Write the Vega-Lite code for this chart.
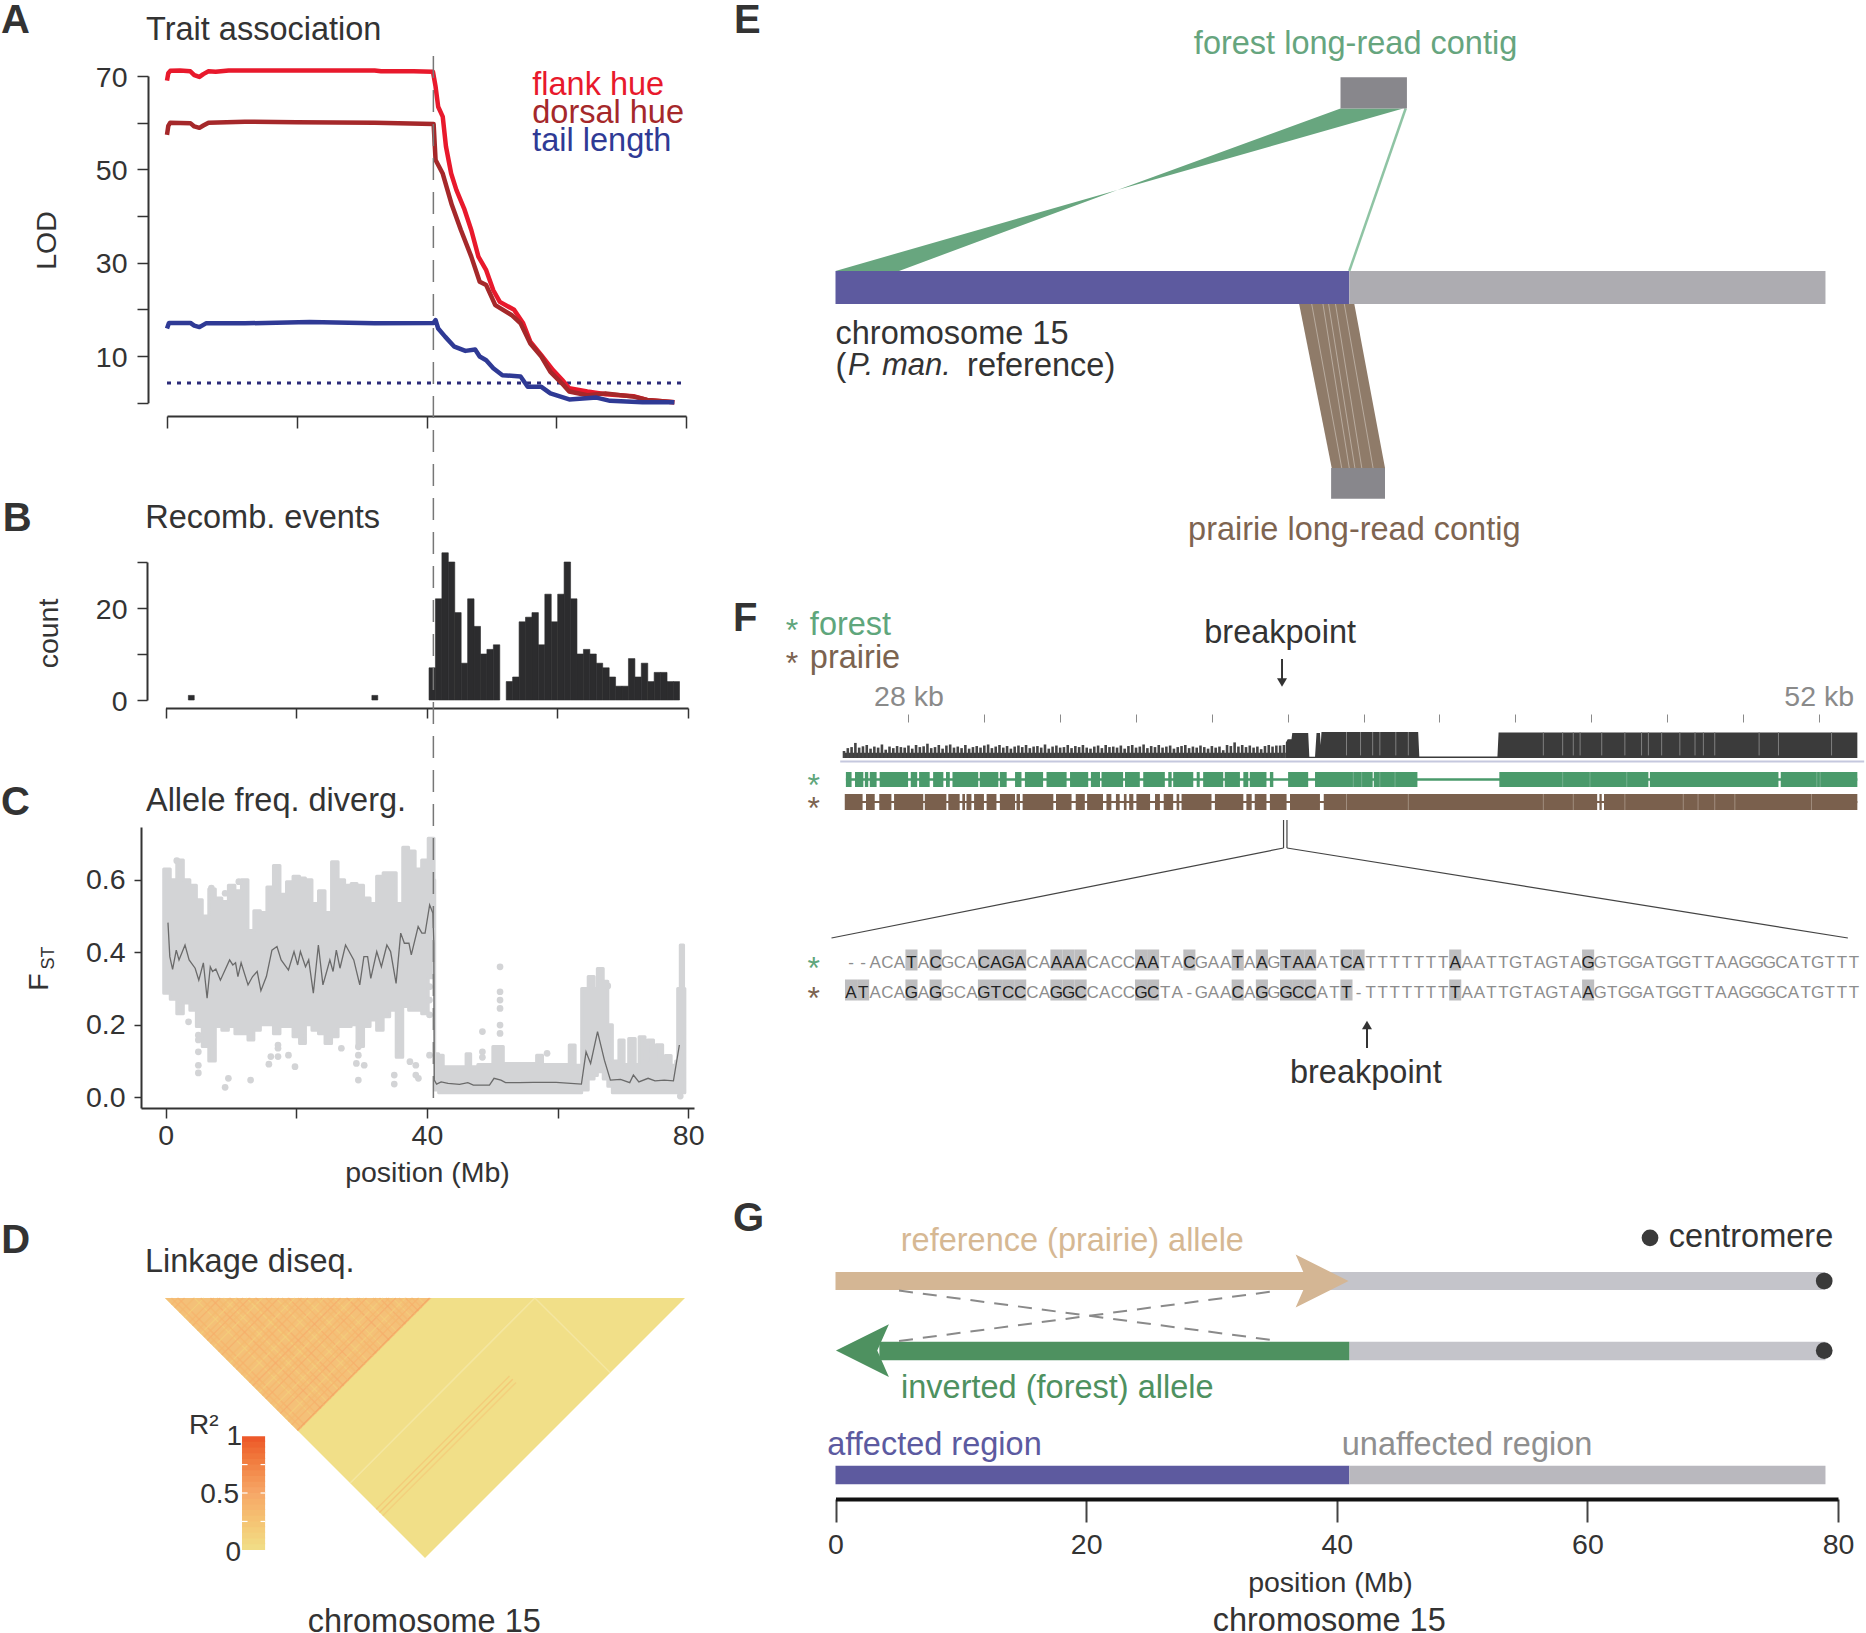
{"$schema":"https://vega.github.io/schema/vega-lite/v6.json","width":1866,"height":1633,"padding":0,"autosize":{"type":"none"},"background":"white",
"config":{"view":{"stroke":null},"font":"Liberation Sans","text":{"font":"Liberation Sans","fontSize":32.5,"color":"#333333","baseline":"middle","align":"left","dy":1},"point":{"opacity":1,"filled":true},"axis":{"grid":false,"domainColor":"#333333","domainWidth":2,"tickColor":"#333333","tickWidth":1.5,"labelFont":"Liberation Sans","labelFontSize":28.5,"labelColor":"#333333","titleFont":"Liberation Sans","titleFontSize":28.5,"titleFontWeight":"normal","titleColor":"#333333","titleBaseline":"middle","labelOverlap":false,"labelBound":false,"labelFlush":false}},
"resolve":{"scale":{"x":"independent","y":"independent","color":"independent"},"axis":{"x":"independent","y":"independent"}},
"layer":[
{"encoding":{"x":{"field":"x","type":"quantitative","scale":{"domain":[0,80],"range":[167,686],"nice":false,"zero":false},"axis":{"orient":"bottom","offset":-1217,"values":[0,20,40,60,80],"labels":false,"tickSize":12,"title":null}},"y":{"field":"y","type":"quantitative","scale":{"domain":[0,70],"range":[402.7,76],"nice":false,"zero":false},"axis":{"orient":"left","offset":-148,"values":[0,10,20,30,40,50,60,70],"tickSize":11,"labelPadding":10,"labelOffset":1,"labelExpr":"datum.value%20==10?datum.label:''","title":"LOD","titleX":-102,"titleY":240}}},
"layer":[
{"data":{"values":[{"x":0,"x2":79.5,"y":4.2}]},"mark":{"type":"rule","color":"#2b2b78","strokeWidth":3,"strokeDash":[4,6]},"encoding":{"x2":{"field":"x2"}}},
{"data":{"values":[
{"s":"flank hue","x":0,"y":69},{"s":"flank hue","x":0.2,"y":70.6},{"s":"flank hue","x":0.5,"y":71.1},{"s":"flank hue","x":2,"y":71.2},{"s":"flank hue","x":3.6,"y":71},{"s":"flank hue","x":4.2,"y":70.2},{"s":"flank hue","x":5,"y":69.8},{"s":"flank hue","x":5.6,"y":70.4},{"s":"flank hue","x":6.4,"y":71},{"s":"flank hue","x":7.5,"y":70.9},{"s":"flank hue","x":9.5,"y":71.2},{"s":"flank hue","x":20,"y":71.2},{"s":"flank hue","x":32,"y":71.2},{"s":"flank hue","x":33,"y":71},{"s":"flank hue","x":38,"y":71},{"s":"flank hue","x":41,"y":70.9},{"s":"flank hue","x":41.4,"y":67.7},{"s":"flank hue","x":41.8,"y":63.4},{"s":"flank hue","x":42.5,"y":61.3},{"s":"flank hue","x":43,"y":54.9},{"s":"flank hue","x":43.8,"y":49.1},{"s":"flank hue","x":44.6,"y":45.6},{"s":"flank hue","x":45.8,"y":41.6},{"s":"flank hue","x":46.9,"y":37},{"s":"flank hue","x":48,"y":31.3},{"s":"flank hue","x":49.2,"y":28.4},{"s":"flank hue","x":50.3,"y":24.1},{"s":"flank hue","x":51.3,"y":21.6},{"s":"flank hue","x":53.5,"y":19.9},{"s":"flank hue","x":54.9,"y":17},{"s":"flank hue","x":56,"y":13.1},{"s":"flank hue","x":57.7,"y":10.2},{"s":"flank hue","x":59.5,"y":7},{"s":"flank hue","x":60.9,"y":4.9},{"s":"flank hue","x":62,"y":3.1},{"s":"flank hue","x":64.8,"y":2.4},{"s":"flank hue","x":67.6,"y":1.8},{"s":"flank hue","x":71.9,"y":1.4},{"s":"flank hue","x":74,"y":0.6},{"s":"flank hue","x":78.2,"y":0.1},
{"s":"dorsal hue","x":0,"y":57.4},{"s":"dorsal hue","x":0.2,"y":59.3},{"s":"dorsal hue","x":0.5,"y":60},{"s":"dorsal hue","x":3.6,"y":59.9},{"s":"dorsal hue","x":4.2,"y":59.2},{"s":"dorsal hue","x":5,"y":58.9},{"s":"dorsal hue","x":5.6,"y":59.4},{"s":"dorsal hue","x":6.4,"y":60},{"s":"dorsal hue","x":12,"y":60.2},{"s":"dorsal hue","x":20,"y":60.1},{"s":"dorsal hue","x":32,"y":60},{"s":"dorsal hue","x":41.1,"y":59.7},{"s":"dorsal hue","x":41.4,"y":52},{"s":"dorsal hue","x":42.5,"y":49.1},{"s":"dorsal hue","x":43.9,"y":42.4},{"s":"dorsal hue","x":45.3,"y":37},{"s":"dorsal hue","x":46.9,"y":31.3},{"s":"dorsal hue","x":48.2,"y":25.9},{"s":"dorsal hue","x":49.2,"y":25.2},{"s":"dorsal hue","x":50.6,"y":20.9},{"s":"dorsal hue","x":53.1,"y":18.8},{"s":"dorsal hue","x":54.5,"y":17},{"s":"dorsal hue","x":56,"y":12.7},{"s":"dorsal hue","x":57.7,"y":9.9},{"s":"dorsal hue","x":59.1,"y":6.6},{"s":"dorsal hue","x":60.9,"y":4.1},{"s":"dorsal hue","x":62,"y":2.4},{"s":"dorsal hue","x":64.8,"y":1.6},{"s":"dorsal hue","x":67.6,"y":2},{"s":"dorsal hue","x":71.9,"y":1.3},{"s":"dorsal hue","x":74,"y":0.6},{"s":"dorsal hue","x":78.2,"y":0.1},
{"s":"tail length","x":0,"y":15.9},{"s":"tail length","x":0.3,"y":17.1},{"s":"tail length","x":3.6,"y":17.1},{"s":"tail length","x":4.2,"y":16.5},{"s":"tail length","x":5,"y":16.2},{"s":"tail length","x":6,"y":17},{"s":"tail length","x":12,"y":17},{"s":"tail length","x":22,"y":17.3},{"s":"tail length","x":32,"y":17},{"s":"tail length","x":41.1,"y":17.1},{"s":"tail length","x":41.4,"y":17.7},{"s":"tail length","x":41.8,"y":15.9},{"s":"tail length","x":42.9,"y":14.1},{"s":"tail length","x":44.3,"y":12},{"s":"tail length","x":46,"y":11.1},{"s":"tail length","x":47.5,"y":11.4},{"s":"tail length","x":48.2,"y":9.9},{"s":"tail length","x":49.2,"y":9.1},{"s":"tail length","x":50.3,"y":7.4},{"s":"tail length","x":51.7,"y":5.9},{"s":"tail length","x":54.5,"y":5.6},{"s":"tail length","x":55.6,"y":3.4},{"s":"tail length","x":57.7,"y":3.4},{"s":"tail length","x":59.1,"y":2},{"s":"tail length","x":62,"y":0.7},{"s":"tail length","x":66.2,"y":1.1},{"s":"tail length","x":68.3,"y":0.4},{"s":"tail length","x":73.3,"y":0.1},{"s":"tail length","x":78.2,"y":0.1}
]},"mark":{"type":"line","strokeWidth":4.5,"strokeJoin":"round"},"encoding":{"color":{"field":"s","type":"nominal","scale":{"domain":["flank hue","dorsal hue","tail length"],"range":["#e8192c","#a5282a","#2f3a95"]},"legend":null}}},
{"data":{"values":[{"x":-3.24,"y":80.1,"t":"Trait association"}]},"mark":{"type":"text"},"encoding":{"text":{"field":"t"}}},
{"data":{"values":[{"x":-25.6,"y":82,"t":"A"}]},"mark":{"type":"text","fontWeight":"bold","fontSize":40},"encoding":{"text":{"field":"t"}}},
{"data":{"values":[{"x":56.3,"y":68.3,"t":"flank hue"}]},"mark":{"type":"text","color":"#e8192c"},"encoding":{"text":{"field":"t"}}},
{"data":{"values":[{"x":56.3,"y":62.3,"t":"dorsal hue"}]},"mark":{"type":"text","color":"#a5282a"},"encoding":{"text":{"field":"t"}}},
{"data":{"values":[{"x":56.3,"y":56.3,"t":"tail length"}]},"mark":{"type":"text","color":"#2f3a95"},"encoding":{"text":{"field":"t"}}}
]},
{"encoding":{"x":{"field":"x","type":"quantitative","scale":{"domain":[0,80],"range":[165.5,688],"nice":false,"zero":false},"axis":{"orient":"bottom","offset":-925,"values":[0,20,40,60,80],"labels":false,"tickSize":10,"title":null}},"y":{"field":"y","type":"quantitative","scale":{"domain":[0,30],"range":[700,562],"nice":false,"zero":false},"axis":{"orient":"left","offset":-147,"values":[0,10,20,30],"tickSize":10,"labelPadding":10,"labelOffset":1,"labelExpr":"datum.value%20==0?datum.label:''","title":"count","titleX":-99,"titleY":633}}},
"layer":[
{"data":{"values":[{"x":3.5,"x2":4.4,"y":1},{"x":31.6,"x2":32.5,"y":1},{"x":40.35,"x2":41.33,"y":7},{"x":41.33,"x2":42.32,"y":22},{"x":42.32,"x2":43.3,"y":32},{"x":43.3,"x2":44.29,"y":30},{"x":44.29,"x2":45.27,"y":19},{"x":45.27,"x2":46.26,"y":8},{"x":46.26,"x2":47.24,"y":22},{"x":47.24,"x2":48.23,"y":16},{"x":48.23,"x2":49.21,"y":10},{"x":49.21,"x2":50.2,"y":11},{"x":50.2,"x2":51.18,"y":12},{"x":52.17,"x2":53.15,"y":4},{"x":53.15,"x2":54.14,"y":5},{"x":54.14,"x2":55.12,"y":17},{"x":55.12,"x2":56.11,"y":18},{"x":56.11,"x2":57.09,"y":19},{"x":57.09,"x2":58.08,"y":12},{"x":58.08,"x2":59.06,"y":23},{"x":59.06,"x2":60.05,"y":17},{"x":60.05,"x2":61.03,"y":23},{"x":61.03,"x2":62.02,"y":30},{"x":62.02,"x2":63,"y":22},{"x":63,"x2":63.99,"y":10},{"x":63.99,"x2":64.97,"y":11},{"x":64.97,"x2":65.96,"y":10},{"x":65.96,"x2":66.94,"y":8},{"x":66.94,"x2":67.93,"y":7},{"x":67.93,"x2":68.91,"y":5},{"x":68.91,"x2":69.9,"y":3},{"x":69.9,"x2":70.88,"y":3},{"x":70.88,"x2":71.87,"y":9},{"x":71.87,"x2":72.85,"y":5},{"x":72.85,"x2":73.84,"y":8},{"x":73.84,"x2":74.82,"y":4},{"x":74.82,"x2":75.81,"y":6},{"x":75.81,"x2":76.79,"y":6},{"x":76.79,"x2":77.78,"y":4},{"x":77.78,"x2":78.7,"y":4}]},"mark":{"type":"rect","color":"#2c2c2e","stroke":"#2c2c2e","strokeWidth":0.6},"encoding":{"x2":{"field":"x2"},"y2":{"datum":0}}},
{"data":{"values":[{"x":-3.1,"y":39.8,"t":"Recomb. events"}]},"mark":{"type":"text"},"encoding":{"text":{"field":"t"}}},
{"data":{"values":[{"x":-24.9,"y":39.6,"t":"B"}]},"mark":{"type":"text","fontWeight":"bold","fontSize":40},"encoding":{"text":{"field":"t"}}}
]},
{"encoding":{"x":{"field":"x","type":"quantitative","scale":{"domain":[-3.78,80.9],"range":[141,694],"nice":false,"zero":false},"axis":{"orient":"bottom","offset":-525,"values":[0,20,40,60,80],"tickSize":10,"labelPadding":3,"labelExpr":"datum.value%40==0?datum.label:''","title":"position (Mb)","titleX":427,"titleY":64}},"y":{"field":"y","type":"quantitative","scale":{"domain":[-0.03,0.746],"range":[1108,827],"nice":false,"zero":false},"axis":{"orient":"left","offset":-141,"values":[0,0.2,0.4,0.6],"format":".1f","tickSize":7,"labelPadding":9,"title":null}}},
"layer":[
{"data":{"values":[{"x":-0.3,"y":0.63,"y2":0.287},{"x":0.7,"y":0.6,"y2":0.27},{"x":1.7,"y":0.655,"y2":0.23},{"x":2.7,"y":0.6,"y2":0.26},{"x":3.7,"y":0.585,"y2":0.24},{"x":4.7,"y":0.545,"y2":0.195},{"x":5.6,"y":0.5,"y2":0.14},{"x":6.6,"y":0.575,"y2":0.1},{"x":7.6,"y":0.55,"y2":0.195},{"x":8.6,"y":0.54,"y2":0.185},{"x":9.6,"y":0.585,"y2":0.195},{"x":10.6,"y":0.57,"y2":0.175},{"x":11.6,"y":0.6,"y2":0.175},{"x":12.6,"y":0.46,"y2":0.158},{"x":13.5,"y":0.515,"y2":0.185},{"x":14.5,"y":0.51,"y2":0.2},{"x":15.5,"y":0.58,"y2":0.2},{"x":16.5,"y":0.64,"y2":0.175},{"x":17.5,"y":0.56,"y2":0.195},{"x":18.5,"y":0.595,"y2":0.195},{"x":19.5,"y":0.61,"y2":0.167},{"x":20.5,"y":0.605,"y2":0.148},{"x":21.4,"y":0.6,"y2":0.2},{"x":22.4,"y":0.535,"y2":0.185},{"x":23.4,"y":0.57,"y2":0.175},{"x":24.4,"y":0.51,"y2":0.148},{"x":25.4,"y":0.65,"y2":0.167},{"x":26.4,"y":0.6,"y2":0.195},{"x":27.4,"y":0.585,"y2":0.195},{"x":28.4,"y":0.59,"y2":0.2},{"x":29.3,"y":0.585,"y2":0.14},{"x":30.3,"y":0.55,"y2":0.195},{"x":31.3,"y":0.535,"y2":0.213},{"x":32.3,"y":0.61,"y2":0.185},{"x":33.3,"y":0.62,"y2":0.222},{"x":34.3,"y":0.62,"y2":0.24},{"x":35.3,"y":0.535,"y2":0.11},{"x":36.3,"y":0.69,"y2":0.25},{"x":37.2,"y":0.68,"y2":0.24},{"x":38.2,"y":0.63,"y2":0.24},{"x":39.2,"y":0.655,"y2":0.23},{"x":40.2,"y":0.715,"y2":0.33},{"x":41.1,"y":0.6,"y2":0.44},{"x":41.2,"y":0.12,"y2":0.02},{"x":41.8,"y":0.116,"y2":0.012},{"x":42.5,"y":0.084,"y2":0.012},{"x":46,"y":0.12,"y2":0.012},{"x":46.7,"y":0.084,"y2":0.012},{"x":47.8,"y":0.09,"y2":0.012},{"x":50.1,"y":0.14,"y2":0.012},{"x":51.7,"y":0.093,"y2":0.012},{"x":56.8,"y":0.116,"y2":0.012},{"x":57.7,"y":0.09,"y2":0.012},{"x":61.8,"y":0.144,"y2":0.012},{"x":62.7,"y":0.088,"y2":0.012},{"x":63.7,"y":0.3,"y2":0.02},{"x":64.7,"y":0.333,"y2":0.05},{"x":65.6,"y":0.3,"y2":0.06},{"x":66.1,"y":0.355,"y2":0.07},{"x":67,"y":0.32,"y2":0.05},{"x":67.7,"y":0.2,"y2":0.03},{"x":68.4,"y":0.1,"y2":0.012},{"x":69.4,"y":0.158,"y2":0.012},{"x":70.2,"y":0.09,"y2":0.012},{"x":70.9,"y":0.162,"y2":0.012},{"x":71.9,"y":0.09,"y2":0.012},{"x":72.5,"y":0.167,"y2":0.012},{"x":73.4,"y":0.1,"y2":0.012},{"x":73.8,"y":0.158,"y2":0.012},{"x":74.7,"y":0.1,"y2":0.012},{"x":75.1,"y":0.145,"y2":0.012},{"x":76.1,"y":0.095,"y2":0.012},{"x":76.5,"y":0.115,"y2":0.012},{"x":77.4,"y":0.088,"y2":0.012},{"x":78.1,"y":0.1,"y2":0.012},{"x":78.4,"y":0.3,"y2":0.012},{"x":78.8,"y":0.42,"y2":0.012},{"x":79.3,"y":0.3,"y2":0.012},{"x":79.5,"y":0.3,"y2":0.012}]},"mark":{"type":"area","color":"#d3d4d6","stroke":"#d3d4d6","strokeWidth":3,"strokeJoin":"round","interpolate":"step-after"},"encoding":{"y2":{"field":"y2"}}},
{"data":{"values":[{"x":5,"y":0.171},{"x":5,"y":0.158},{"x":5,"y":0.125},{"x":5,"y":0.088},{"x":5,"y":0.067},{"x":3.5,"y":0.208},{"x":9.6,"y":0.052},{"x":9.1,"y":0.027},{"x":13,"y":0.047},{"x":15.8,"y":0.091},{"x":16.1,"y":0.112},{"x":17.2,"y":0.144},{"x":17.2,"y":0.135},{"x":17.2,"y":0.112},{"x":18.8,"y":0.116},{"x":19.8,"y":0.084},{"x":26.9,"y":0.135},{"x":29.5,"y":0.139},{"x":29.5,"y":0.116},{"x":29.2,"y":0.093},{"x":29.5,"y":0.047},{"x":30.4,"y":0.088},{"x":35,"y":0.061},{"x":35,"y":0.036},{"x":37.4,"y":0.098},{"x":38.3,"y":0.088},{"x":38.3,"y":0.061},{"x":38.7,"y":0.052},{"x":40.4,"y":0.305},{"x":40.4,"y":0.268},{"x":40.4,"y":0.227},{"x":40.4,"y":0.116},{"x":1.7,"y":0.653},{"x":11.2,"y":0.595},{"x":7,"y":0.577},{"x":9.1,"y":0.563},{"x":51.2,"y":0.36},{"x":51.2,"y":0.291},{"x":51.2,"y":0.268},{"x":51.2,"y":0.245},{"x":51.2,"y":0.199},{"x":51.2,"y":0.176},{"x":48.5,"y":0.181},{"x":48.5,"y":0.125},{"x":48.5,"y":0.11},{"x":58.4,"y":0.121},{"x":67.7,"y":0.307},{"x":78.8,"y":0.003}]},"mark":{"type":"point","shape":"circle","size":45,"color":"#d3d4d6"}},
{"data":{"values":[{"x":0.35,"y":0.482},{"x":0.63,"y":0.388},{"x":1.06,"y":0.353},{"x":1.62,"y":0.406},{"x":2.04,"y":0.379},{"x":2.96,"y":0.42},{"x":3.59,"y":0.379},{"x":4.51,"y":0.356},{"x":5.07,"y":0.323},{"x":5.77,"y":0.371},{"x":6.34,"y":0.273},{"x":6.83,"y":0.36},{"x":7.18,"y":0.347},{"x":7.68,"y":0.354},{"x":8.38,"y":0.323},{"x":9.79,"y":0.379},{"x":10.28,"y":0.365},{"x":10.7,"y":0.371},{"x":11.06,"y":0.333},{"x":11.55,"y":0.371},{"x":12.61,"y":0.31},{"x":13.31,"y":0.333},{"x":14.01,"y":0.347},{"x":14.58,"y":0.294},{"x":15.42,"y":0.333},{"x":16.27,"y":0.406},{"x":17.04,"y":0.416},{"x":17.68,"y":0.379},{"x":18.8,"y":0.351},{"x":19.65,"y":0.402},{"x":20.21,"y":0.365},{"x":20.63,"y":0.402},{"x":21.41,"y":0.36},{"x":21.9,"y":0.379},{"x":22.61,"y":0.287},{"x":23.38,"y":0.42},{"x":24.08,"y":0.31},{"x":24.72,"y":0.351},{"x":25.14,"y":0.379},{"x":25.63,"y":0.347},{"x":26.13,"y":0.406},{"x":26.69,"y":0.356},{"x":27.54,"y":0.42},{"x":28.8,"y":0.379},{"x":29.72,"y":0.31},{"x":30.35,"y":0.388},{"x":30.92,"y":0.388},{"x":31.41,"y":0.328},{"x":32.32,"y":0.402},{"x":33.03,"y":0.36},{"x":33.87,"y":0.42},{"x":34.44,"y":0.402},{"x":35.28,"y":0.314},{"x":35.99,"y":0.453},{"x":36.55,"y":0.425},{"x":37.25,"y":0.425},{"x":37.61,"y":0.393},{"x":38.66,"y":0.471},{"x":39.23,"y":0.453},{"x":39.72,"y":0.453},{"x":40.42,"y":0.531},{"x":40.92,"y":0.508},{"x":41.06,"y":0.425},{"x":41.13,"y":0.047},{"x":41.48,"y":0.036},{"x":42.18,"y":0.042},{"x":43.24,"y":0.038},{"x":45,"y":0.035},{"x":46.27,"y":0.04},{"x":47.11,"y":0.033},{"x":49.58,"y":0.033},{"x":50.28,"y":0.052},{"x":51.34,"y":0.047},{"x":52.04,"y":0.04},{"x":54.15,"y":0.04},{"x":56.27,"y":0.041},{"x":59.79,"y":0.041},{"x":63.66,"y":0.036},{"x":64.37,"y":0.125},{"x":65.07,"y":0.093},{"x":66.13,"y":0.181},{"x":67.18,"y":0.102},{"x":68.1,"y":0.047},{"x":69.65,"y":0.049},{"x":71.06,"y":0.04},{"x":71.62,"y":0.061},{"x":72.46,"y":0.042},{"x":73.87,"y":0.052},{"x":74.93,"y":0.045},{"x":76.34,"y":0.047},{"x":77.75,"y":0.045},{"x":78.66,"y":0.144}]},"mark":{"type":"line","color":"#6a6a6a","strokeWidth":1.3}},
{"data":{"values":[{"x":-3.02,"y":0.82,"t":"Allele freq. diverg."}]},"mark":{"type":"text"},"encoding":{"text":{"field":"t"}}},
{"data":{"values":[{"x":-25.2,"y":0.815,"t":"C"}]},"mark":{"type":"text","fontWeight":"bold","fontSize":40},"encoding":{"text":{"field":"t"}}},
{"data":{"values":[{"x":-19.6,"y":0.318,"t":"F"}]},"mark":{"type":"text","fontSize":28.5,"angle":270,"align":"center"},"encoding":{"text":{"field":"t"}}},
{"data":{"values":[{"x":-18,"y":0.384,"t":"ST"}]},"mark":{"type":"text","fontSize":18,"angle":270,"align":"center"},"encoding":{"text":{"field":"t"}}}
]},
{"encoding":{"x":{"field":"x","type":"quantitative","scale":{"domain":[0,80],"range":[165.7,688],"nice":false,"zero":false},"axis":null},"y":{"field":"y","type":"quantitative","scale":{"domain":[0,1],"range":[1098,52],"nice":false,"zero":false},"axis":null}},
"layer":[{"data":{"values":[{"x":41,"y":0,"y2":1}]},"mark":{"type":"rule","color":"#777777","strokeWidth":1.5,"strokeDash":[22,12]},"encoding":{"y2":{"field":"y2"}}}]},
{"encoding":{"x":{"field":"x","type":"quantitative","scale":{"domain":[0,80],"range":[165,685],"nice":false,"zero":false},"axis":null},"y":{"field":"y","type":"quantitative","scale":{"domain":[0,80],"range":[1298,1558],"nice":false,"zero":false},"axis":null}},
"layer":[
{"data":{"values":[{"x":0,"y":0,"y2":0},{"x":40,"y":0,"y2":80},{"x":80,"y":0,"y2":0}]},"mark":{"type":"area","color":"#f1df88"},"encoding":{"y2":{"field":"y2"}}},
{"data":{"values":[{"x":0,"y":0,"y2":0},{"x":20.5,"y":0,"y2":41},{"x":41,"y":0,"y2":0}]},"mark":{"type":"area","color":"#f4c078"},"encoding":{"y2":{"field":"y2"}}},
{"data":{"values":[{"x":56.9,"y":0,"x2":28.5,"y2":56.9},{"x":56.9,"y":0,"x2":68.5,"y2":23}]},"mark":{"type":"rule","color":"#f6ebb0","strokeWidth":1.5,"opacity":0.6},"encoding":{"x2":{"field":"x2"},"y2":{"field":"y2"}}},
{"data":{"values":[{"x":2,"y":0,"x2":21.5,"y2":39,"r":0.42},{"x":4.5,"y":0,"x2":22.75,"y2":36.5,"r":0.15},{"x":7,"y":0,"x2":24,"y2":34,"r":0.45},{"x":9,"y":0,"x2":25,"y2":32,"r":0.15},{"x":11,"y":0,"x2":26,"y2":30,"r":0.42},{"x":12.5,"y":0,"x2":26.75,"y2":28.5,"r":0.14},{"x":14,"y":0,"x2":27.5,"y2":27,"r":0.45},{"x":17,"y":0,"x2":29,"y2":24,"r":0.16},{"x":19,"y":0,"x2":30,"y2":22,"r":0.45},{"x":21.5,"y":0,"x2":31.25,"y2":19.5,"r":0.14},{"x":24,"y":0,"x2":32.5,"y2":17,"r":0.42},{"x":26,"y":0,"x2":33.5,"y2":15,"r":0.15},{"x":28,"y":0,"x2":34.5,"y2":13,"r":0.48},{"x":30.5,"y":0,"x2":35.75,"y2":10.5,"r":0.15},{"x":33,"y":0,"x2":37,"y2":8,"r":0.45},{"x":35,"y":0,"x2":38,"y2":6,"r":0.16},{"x":37,"y":0,"x2":39,"y2":4,"r":0.45},{"x":39,"y":0,"x2":40,"y2":2,"r":0.15},{"x":3,"y":0,"x2":1.5,"y2":3,"r":0.42},{"x":6,"y":0,"x2":3,"y2":6,"r":0.15},{"x":8.5,"y":0,"x2":4.25,"y2":8.5,"r":0.45},{"x":11,"y":0,"x2":5.5,"y2":11,"r":0.14},{"x":13,"y":0,"x2":6.5,"y2":13,"r":0.45},{"x":15,"y":0,"x2":7.5,"y2":15,"r":0.16},{"x":17.5,"y":0,"x2":8.75,"y2":17.5,"r":0.45},{"x":20,"y":0,"x2":10,"y2":20,"r":0.14},{"x":22,"y":0,"x2":11,"y2":22,"r":0.42},{"x":24.5,"y":0,"x2":12.25,"y2":24.5,"r":0.15},{"x":27,"y":0,"x2":13.5,"y2":27,"r":0.48},{"x":29,"y":0,"x2":14.5,"y2":29,"r":0.14},{"x":31,"y":0,"x2":15.5,"y2":31,"r":0.45},{"x":33.5,"y":0,"x2":16.75,"y2":33.5,"r":0.15},{"x":35.5,"y":0,"x2":17.75,"y2":35.5,"r":0.48},{"x":37,"y":0,"x2":18.5,"y2":37,"r":0.15},{"x":39,"y":0,"x2":19.5,"y2":39,"r":0.42},{"x":40.7,"y":0,"x2":20.35,"y2":40.7,"r":0.55},{"x":1,"y":0,"x2":21,"y2":40,"r":0.38},{"x":5.5,"y":0,"x2":23.25,"y2":35.5,"r":0.38},{"x":8,"y":0,"x2":24.5,"y2":33,"r":0.34},{"x":10,"y":0,"x2":25.5,"y2":31,"r":0.38},{"x":13,"y":0,"x2":27,"y2":28,"r":0.34},{"x":15.5,"y":0,"x2":28.25,"y2":25.5,"r":0.38},{"x":18,"y":0,"x2":29.5,"y2":23,"r":0.34},{"x":20.5,"y":0,"x2":30.75,"y2":20.5,"r":0.38},{"x":23,"y":0,"x2":32,"y2":18,"r":0.34},{"x":25,"y":0,"x2":33,"y2":16,"r":0.38},{"x":29.5,"y":0,"x2":35.25,"y2":11.5,"r":0.38},{"x":32,"y":0,"x2":36.5,"y2":9,"r":0.34},{"x":34,"y":0,"x2":37.5,"y2":7,"r":0.38},{"x":36,"y":0,"x2":38.5,"y2":5,"r":0.34},{"x":38,"y":0,"x2":39.5,"y2":3,"r":0.38},{"x":2,"y":0,"x2":1,"y2":2,"r":0.38},{"x":4.5,"y":0,"x2":2.25,"y2":4.5,"r":0.34},{"x":7.5,"y":0,"x2":3.75,"y2":7.5,"r":0.38},{"x":10,"y":0,"x2":5,"y2":10,"r":0.34},{"x":12,"y":0,"x2":6,"y2":12,"r":0.38},{"x":14,"y":0,"x2":7,"y2":14,"r":0.34},{"x":16.5,"y":0,"x2":8.25,"y2":16.5,"r":0.38},{"x":19,"y":0,"x2":9.5,"y2":19,"r":0.34},{"x":21,"y":0,"x2":10.5,"y2":21,"r":0.38},{"x":23.5,"y":0,"x2":11.75,"y2":23.5,"r":0.34},{"x":26,"y":0,"x2":13,"y2":26,"r":0.38},{"x":28,"y":0,"x2":14,"y2":28,"r":0.34},{"x":30,"y":0,"x2":15,"y2":30,"r":0.38},{"x":32.5,"y":0,"x2":16.25,"y2":32.5,"r":0.34},{"x":34.5,"y":0,"x2":17.25,"y2":34.5,"r":0.38},{"x":38,"y":0,"x2":19,"y2":38,"r":0.34},{"x":33,"y":66,"x2":53.5,"y2":25,"r":0.3},{"x":32.5,"y":65,"x2":53,"y2":24,"r":0.25},{"x":33.5,"y":67,"x2":54,"y2":26,"r":0.2}]},"mark":{"type":"rule","strokeWidth":1.3,"opacity":0.7},"encoding":{"x2":{"field":"x2"},"y2":{"field":"y2"},"color":{"field":"r","type":"quantitative","scale":{"domain":[0,0.5,1],"range":["#f1df88","#f6a768","#ec5428"]},"legend":null}}},
{"data":{"values":[{"x":11.85,"x2":15.4,"y":77.5,"y2":75.4,"r":0.025},{"x":11.85,"x2":15.4,"y":75.75,"y2":73.7,"r":0.075},{"x":11.85,"x2":15.4,"y":74,"y2":71.9,"r":0.125},{"x":11.85,"x2":15.4,"y":72.25,"y2":70.2,"r":0.175},{"x":11.85,"x2":15.4,"y":70.5,"y2":68.4,"r":0.225},{"x":11.85,"x2":15.4,"y":68.75,"y2":66.7,"r":0.275},{"x":11.85,"x2":15.4,"y":67,"y2":64.9,"r":0.325},{"x":11.85,"x2":15.4,"y":65.25,"y2":63.2,"r":0.375},{"x":11.85,"x2":15.4,"y":63.5,"y2":61.4,"r":0.425},{"x":11.85,"x2":15.4,"y":61.75,"y2":59.7,"r":0.475},{"x":11.85,"x2":15.4,"y":60,"y2":57.9,"r":0.525},{"x":11.85,"x2":15.4,"y":58.25,"y2":56.2,"r":0.575},{"x":11.85,"x2":15.4,"y":56.5,"y2":54.4,"r":0.625},{"x":11.85,"x2":15.4,"y":54.75,"y2":52.7,"r":0.675},{"x":11.85,"x2":15.4,"y":53,"y2":50.9,"r":0.725},{"x":11.85,"x2":15.4,"y":51.25,"y2":49.2,"r":0.775},{"x":11.85,"x2":15.4,"y":49.5,"y2":47.4,"r":0.825},{"x":11.85,"x2":15.4,"y":47.75,"y2":45.7,"r":0.875},{"x":11.85,"x2":15.4,"y":46,"y2":43.9,"r":0.925},{"x":11.85,"x2":15.4,"y":44.25,"y2":42.5,"r":0.975}]},"mark":{"type":"rect"},"encoding":{"x2":{"field":"x2"},"y2":{"field":"y2"},"color":{"field":"r","type":"quantitative","scale":{"domain":[0,0.5,1],"range":["#f1df88","#f6a768","#ec5428"]},"legend":null}}},
{"data":{"values":[{"x":11.85,"x2":12.7,"y":68.75},{"x":14.7,"x2":15.4,"y":68.75},{"x":11.85,"x2":12.7,"y":60},{"x":14.7,"x2":15.4,"y":60},{"x":11.85,"x2":12.7,"y":51.25},{"x":14.7,"x2":15.4,"y":51.25}]},"mark":{"type":"rule","color":"#ffffff","strokeWidth":1.2},"encoding":{"x2":{"field":"x2"}}},
{"data":{"values":[{"x":-3.08,"y":-11.4,"t":"Linkage diseq."}]},"mark":{"type":"text"},"encoding":{"text":{"field":"t"}}},
{"data":{"values":[{"x":-25.2,"y":-18,"t":"D"}]},"mark":{"type":"text","fontWeight":"bold","fontSize":40},"encoding":{"text":{"field":"t"}}},
{"data":{"values":[{"x":39.9,"y":99.4,"t":"chromosome 15"}]},"mark":{"type":"text","align":"center"},"encoding":{"text":{"field":"t"}}},
{"data":{"values":[{"x":3.7,"y":39,"t":"R²"}]},"mark":{"type":"text","fontSize":28},"encoding":{"text":{"field":"t"}}},
{"data":{"values":[{"x":11.85,"y":42.4,"t":"1"},{"x":11.4,"y":60.2,"t":"0.5"},{"x":11.7,"y":78.1,"t":"0"}]},"mark":{"type":"text","fontSize":28,"align":"right"},"encoding":{"text":{"field":"t"}}}
]},
{"encoding":{"x":{"field":"x","type":"quantitative","scale":{"domain":[0,80],"range":[835.5,1838],"nice":false,"zero":false},"axis":null},"y":{"field":"y","type":"quantitative","scale":{"domain":[0,100],"range":[1,561],"nice":false,"zero":false},"axis":null}},
"layer":[
{"data":{"values":[{"y":19.2,"x":40.3,"x2":45.3},{"y":33.75,"x":22.5,"x2":22.5},{"y":48.2,"x":5.07,"x2":0}]},"mark":{"type":"area","orient":"horizontal","color":"#68a67f"},"encoding":{"x2":{"field":"x2"}}},
{"data":{"values":[{"x":45.5,"y":19.2,"x2":41,"y2":48.2}]},"mark":{"type":"rule","color":"#8fc4a4","strokeWidth":2.5},"encoding":{"x2":{"field":"x2"},"y2":{"field":"y2"}}},
{"data":{"values":[{"y":54.1,"x":37,"x2":41.4},{"y":83.4,"x":39.6,"x2":43.85}]},"mark":{"type":"area","orient":"horizontal","color":"#8f7b69"},"encoding":{"x2":{"field":"x2"}}},
{"data":{"values":[{"x":38,"y":54.1,"x2":40.4,"y2":83.4},{"x":38.9,"y":54.1,"x2":41,"y2":83.4},{"x":39.35,"y":54.1,"x2":41.45,"y2":83.4},{"x":39.9,"y":54.1,"x2":42,"y2":83.4},{"x":40.6,"y":54.1,"x2":42.9,"y2":83.4}]},"mark":{"type":"rule","color":"#cfc6bd","strokeWidth":0.8,"opacity":0.8},"encoding":{"x2":{"field":"x2"},"y2":{"field":"y2"}}},
{"data":{"values":[{"x":0,"x2":41,"y":48.2,"y2":54.1}]},"mark":{"type":"rect","color":"#5d5a9f"},"encoding":{"x2":{"field":"x2"},"y2":{"field":"y2"}}},
{"data":{"values":[{"x":41,"x2":79,"y":48.2,"y2":54.1}]},"mark":{"type":"rect","color":"#adacb1"},"encoding":{"x2":{"field":"x2"},"y2":{"field":"y2"}}},
{"data":{"values":[{"x":40.3,"x2":45.6,"y":13.6,"y2":19.2},{"x":39.55,"x2":43.85,"y":83.4,"y2":88.9}]},"mark":{"type":"rect","color":"#88878c"},"encoding":{"x2":{"field":"x2"},"y2":{"field":"y2"}}},
{"data":{"values":[{"x":41.5,"y":7.5,"t":"forest long-read contig"}]},"mark":{"type":"text","align":"center","color":"#66a57e"},"encoding":{"text":{"field":"t"}}},
{"data":{"values":[{"x":41.4,"y":94.3,"t":"prairie long-read contig"}]},"mark":{"type":"text","align":"center","color":"#7e6450"},"encoding":{"text":{"field":"t"}}},
{"data":{"values":[{"x":0,"y":59.3,"t":"chromosome 15"},{"x":0,"y":65,"t":"("},{"x":10.5,"y":65,"t":"reference)"}]},"mark":{"type":"text"},"encoding":{"text":{"field":"t"}}},
{"data":{"values":[{"x":1,"y":65,"t":"P. man."}]},"mark":{"type":"text","fontStyle":"italic","fontSize":31},"encoding":{"text":{"field":"t"}}},
{"data":{"values":[{"x":-8.1,"y":3.4,"t":"E"}]},"mark":{"type":"text","fontWeight":"bold","fontSize":40},"encoding":{"text":{"field":"t"}}}
]},
{"encoding":{"x":{"field":"x","type":"quantitative","scale":{"domain":[26.3,53.09],"range":[844,1860],"nice":false,"zero":false},"axis":null},"y":{"field":"y","type":"quantitative","scale":{"domain":[0,1],"range":[758,732],"nice":false,"zero":false},"axis":null,"stack":null}},
"layer":[
{"data":{"values":[{"x":26.3,"x2":37.95,"y":0.2}]},"mark":{"type":"rect","color":"#3f3f3f"},"encoding":{"x2":{"field":"x2"},"y2":{"datum":0}}},
{"data":{"values":[{"x":26.3,"y":0.27},{"x":26.4,"y":0.38},{"x":26.5,"y":0.42},{"x":26.6,"y":0.58},{"x":26.7,"y":0.4},{"x":26.8,"y":0.45},{"x":26.9,"y":0.5},{"x":27,"y":0.36},{"x":27.1,"y":0.44},{"x":27.2,"y":0.4},{"x":27.3,"y":0.52},{"x":27.4,"y":0.32},{"x":27.5,"y":0.44},{"x":27.6,"y":0.38},{"x":27.7,"y":0.46},{"x":27.8,"y":0.42},{"x":27.9,"y":0.4},{"x":28,"y":0.48},{"x":28.1,"y":0.36},{"x":28.2,"y":0.5},{"x":28.3,"y":0.42},{"x":28.4,"y":0.45},{"x":28.5,"y":0.55},{"x":28.6,"y":0.38},{"x":28.7,"y":0.42},{"x":28.8,"y":0.5},{"x":28.9,"y":0.36},{"x":29,"y":0.48},{"x":29.1,"y":0.52},{"x":29.2,"y":0.4},{"x":29.3,"y":0.44},{"x":29.4,"y":0.38},{"x":29.5,"y":0.5},{"x":29.6,"y":0.36},{"x":29.7,"y":0.42},{"x":29.8,"y":0.46},{"x":29.9,"y":0.4},{"x":30,"y":0.48},{"x":30.1,"y":0.52},{"x":30.2,"y":0.38},{"x":30.3,"y":0.44},{"x":30.4,"y":0.5},{"x":30.5,"y":0.4},{"x":30.6,"y":0.46},{"x":30.7,"y":0.36},{"x":30.8,"y":0.44},{"x":30.9,"y":0.48},{"x":31,"y":0.42},{"x":31.1,"y":0.5},{"x":31.2,"y":0.38},{"x":31.3,"y":0.44},{"x":31.4,"y":0.46},{"x":31.5,"y":0.4},{"x":31.6,"y":0.52},{"x":31.7,"y":0.36},{"x":31.8,"y":0.44},{"x":31.9,"y":0.48},{"x":32,"y":0.4},{"x":32.1,"y":0.42},{"x":32.2,"y":0.5},{"x":32.3,"y":0.38},{"x":32.4,"y":0.46},{"x":32.5,"y":0.42},{"x":32.6,"y":0.5},{"x":32.7,"y":0.4},{"x":32.8,"y":0.36},{"x":32.9,"y":0.44},{"x":33,"y":0.48},{"x":33.1,"y":0.38},{"x":33.2,"y":0.5},{"x":33.3,"y":0.42},{"x":33.4,"y":0.44},{"x":33.5,"y":0.4},{"x":33.6,"y":0.48},{"x":33.7,"y":0.36},{"x":33.8,"y":0.46},{"x":33.9,"y":0.5},{"x":34,"y":0.4},{"x":34.1,"y":0.44},{"x":34.2,"y":0.52},{"x":34.3,"y":0.38},{"x":34.4,"y":0.46},{"x":34.5,"y":0.42},{"x":34.6,"y":0.5},{"x":34.7,"y":0.4},{"x":34.8,"y":0.44},{"x":34.9,"y":0.48},{"x":35,"y":0.36},{"x":35.1,"y":0.42},{"x":35.2,"y":0.46},{"x":35.3,"y":0.5},{"x":35.4,"y":0.38},{"x":35.5,"y":0.44},{"x":35.6,"y":0.4},{"x":35.7,"y":0.48},{"x":35.8,"y":0.42},{"x":35.9,"y":0.36},{"x":36,"y":0.46},{"x":36.1,"y":0.4},{"x":36.2,"y":0.44},{"x":36.3,"y":0.3},{"x":36.4,"y":0.5},{"x":36.5,"y":0.46},{"x":36.6,"y":0.6},{"x":36.7,"y":0.44},{"x":36.8,"y":0.5},{"x":36.9,"y":0.42},{"x":37,"y":0.48},{"x":37.1,"y":0.4},{"x":37.2,"y":0.44},{"x":37.3,"y":0.34},{"x":37.4,"y":0.46},{"x":37.5,"y":0.5},{"x":37.6,"y":0.44},{"x":37.7,"y":0.48},{"x":37.8,"y":0.48},{"x":37.9,"y":0.5}]},"mark":{"type":"rule","color":"#454545","strokeWidth":2.6},"encoding":{"y2":{"datum":0}}},
{"data":{"values":[{"x":37.95,"y":0.6},{"x":38,"y":0.72},{"x":38.1,"y":0.72},{"x":38.12,"y":0.96},{"x":38.54,"y":0.96},{"x":38.57,"y":0.05},{"x":38.72,"y":0.05},{"x":38.76,"y":0.96},{"x":38.85,"y":0.96},{"x":38.87,"y":0.5},{"x":38.89,"y":1},{"x":41.44,"y":1},{"x":41.47,"y":0.06},{"x":43.53,"y":0.06},{"x":43.56,"y":0.98},{"x":53.02,"y":0.98}]},"mark":{"type":"area","color":"#3b3b3b"}},
{"data":{"values":[{"x":39.55,"y":1},{"x":39.92,"y":1},{"x":40.24,"y":1},{"x":40.43,"y":1},{"x":40.85,"y":1},{"x":41.18,"y":1},{"x":44.74,"y":1},{"x":45.25,"y":1},{"x":45.53,"y":1},{"x":45.71,"y":1},{"x":46.28,"y":1},{"x":46.89,"y":1},{"x":47.33,"y":1},{"x":47.51,"y":1},{"x":47.86,"y":1},{"x":48.34,"y":1},{"x":48.74,"y":1},{"x":48.96,"y":1},{"x":49.26,"y":1},{"x":50.43,"y":1},{"x":50.94,"y":1},{"x":52.34,"y":1}]},"mark":{"type":"rule","color":"#7f7f7f","strokeWidth":1},"encoding":{"y2":{"datum":0.1}}}
]},
{"encoding":{"x":{"field":"x","type":"quantitative","scale":{"domain":[26.3,53.09],"range":[844,1860],"nice":false,"zero":false},"axis":{"orient":"top","offset":-722,"values":[28,30,32,34,36,38,40,42,44,46,48,50,52],"domain":false,"tickSize":8,"tickColor":"#8a8a8a","tickWidth":1,"labelColor":"#8a8a8a","labelPadding":2.5,"labelExpr":"datum.value==28?'28 kb':datum.value==52?'52 kb':''","title":null}},"y":{"field":"y","type":"quantitative","scale":{"domain":[0,100],"range":[600,1100],"nice":false,"zero":false},"axis":null}},
"layer":[
{"data":{"values":[{"x":26.2,"x2":53.2,"y":32.3}]},"mark":{"type":"rule","color":"#c5c8de","strokeWidth":2},"encoding":{"x2":{"field":"x2"}}},
{"data":{"values":[{"x":26.35,"x2":53.02,"y":35.9}]},"mark":{"type":"rule","color":"#4a9a6b","strokeWidth":2.5},"encoding":{"x2":{"field":"x2"}}},
{"data":{"values":[{"x":26.35,"x2":53.02,"y":40.4}]},"mark":{"type":"rule","color":"#7a604d","strokeWidth":2},"encoding":{"x2":{"field":"x2"}}},
{"data":{"values":[{"x":26.35,"x2":26.5,"y":34.4,"y2":37.4},{"x":26.59,"x2":26.81,"y":34.4,"y2":37.4},{"x":26.85,"x2":26.94,"y":34.4,"y2":37.4},{"x":26.98,"x2":27.16,"y":34.4,"y2":37.4},{"x":27.24,"x2":27.99,"y":34.4,"y2":37.4},{"x":28.06,"x2":28.23,"y":34.4,"y2":37.4},{"x":28.28,"x2":28.56,"y":34.4,"y2":37.4},{"x":28.65,"x2":28.92,"y":34.4,"y2":37.4},{"x":28.99,"x2":29.09,"y":34.4,"y2":37.4},{"x":29.16,"x2":29.84,"y":34.4,"y2":37.4},{"x":29.88,"x2":30.37,"y":34.4,"y2":37.4},{"x":30.41,"x2":30.59,"y":34.4,"y2":37.4},{"x":30.81,"x2":30.98,"y":34.4,"y2":37.4},{"x":31.07,"x2":31.55,"y":34.4,"y2":37.4},{"x":31.64,"x2":32.17,"y":34.4,"y2":37.4},{"x":32.26,"x2":32.74,"y":34.4,"y2":37.4},{"x":32.81,"x2":33.05,"y":34.4,"y2":37.4},{"x":33.09,"x2":33.66,"y":34.4,"y2":37.4},{"x":33.71,"x2":34.1,"y":34.4,"y2":37.4},{"x":34.19,"x2":34.76,"y":34.4,"y2":37.4},{"x":34.85,"x2":34.94,"y":34.4,"y2":37.4},{"x":34.98,"x2":35.51,"y":34.4,"y2":37.4},{"x":35.6,"x2":35.68,"y":34.4,"y2":37.4},{"x":35.77,"x2":36.3,"y":34.4,"y2":37.4},{"x":36.34,"x2":36.74,"y":34.4,"y2":37.4},{"x":36.83,"x2":36.96,"y":34.4,"y2":37.4},{"x":37,"x2":37.44,"y":34.4,"y2":37.4},{"x":37.53,"x2":37.62,"y":34.4,"y2":37.4},{"x":38.01,"x2":38.54,"y":34.4,"y2":37.4},{"x":38.72,"x2":40.24,"y":34.4,"y2":37.4},{"x":40.27,"x2":41.42,"y":34.4,"y2":37.4},{"x":43.58,"x2":47.51,"y":34.4,"y2":37.4},{"x":47.55,"x2":50.94,"y":34.4,"y2":37.4},{"x":51,"x2":53.02,"y":34.4,"y2":37.4}]},"mark":{"type":"rect","color":"#4a9a6b"},"encoding":{"x2":{"field":"x2"},"y2":{"field":"y2"}}},
{"data":{"values":[{"x":26.32,"x2":26.79,"y":38.8,"y2":42},{"x":26.88,"x2":27.11,"y":38.8,"y2":42},{"x":27.23,"x2":27.55,"y":38.8,"y2":42},{"x":27.62,"x2":28.39,"y":38.8,"y2":42},{"x":28.43,"x2":29,"y":38.8,"y2":42},{"x":29.05,"x2":29.35,"y":38.8,"y2":42},{"x":29.42,"x2":29.49,"y":38.8,"y2":42},{"x":29.53,"x2":29.66,"y":38.8,"y2":42},{"x":29.73,"x2":29.99,"y":38.8,"y2":42},{"x":30.06,"x2":30.32,"y":38.8,"y2":42},{"x":30.41,"x2":30.81,"y":38.8,"y2":42},{"x":30.85,"x2":30.94,"y":38.8,"y2":42},{"x":31.01,"x2":31.82,"y":38.8,"y2":42},{"x":31.89,"x2":32.3,"y":38.8,"y2":42},{"x":32.41,"x2":32.65,"y":38.8,"y2":42},{"x":32.71,"x2":33.13,"y":38.8,"y2":42},{"x":33.22,"x2":33.35,"y":38.8,"y2":42},{"x":33.47,"x2":33.57,"y":38.8,"y2":42},{"x":33.68,"x2":33.75,"y":38.8,"y2":42},{"x":33.82,"x2":33.93,"y":38.8,"y2":42},{"x":34.01,"x2":34.37,"y":38.8,"y2":42},{"x":34.5,"x2":34.63,"y":38.8,"y2":42},{"x":34.73,"x2":34.98,"y":38.8,"y2":42},{"x":35.07,"x2":35.14,"y":38.8,"y2":42},{"x":35.2,"x2":35.99,"y":38.8,"y2":42},{"x":36.08,"x2":36.83,"y":38.8,"y2":42},{"x":36.91,"x2":37.05,"y":38.8,"y2":42},{"x":37.13,"x2":37.44,"y":38.8,"y2":42},{"x":37.53,"x2":37.97,"y":38.8,"y2":42},{"x":38.06,"x2":38.85,"y":38.8,"y2":42},{"x":38.95,"x2":46.16,"y":38.8,"y2":42},{"x":46.22,"x2":46.28,"y":38.8,"y2":42},{"x":46.34,"x2":53.02,"y":38.8,"y2":42}]},"mark":{"type":"rect","color":"#7a604d"},"encoding":{"x2":{"field":"x2"},"y2":{"field":"y2"}}},
{"data":{"values":[{"x":39.73,"y":34.4,"y2":37.4},{"x":39.95,"y":34.4,"y2":37.4},{"x":40.43,"y":34.4,"y2":37.4},{"x":40.83,"y":34.4,"y2":37.4},{"x":45.25,"y":34.4,"y2":37.4},{"x":45.97,"y":34.4,"y2":37.4},{"x":46.94,"y":34.4,"y2":37.4},{"x":51.95,"y":34.4,"y2":37.4},{"x":52.04,"y":34.4,"y2":37.4}]},"mark":{"type":"rule","color":"#74b08e","strokeWidth":1},"encoding":{"y2":{"field":"y2"}}},
{"data":{"values":[{"x":39.55,"y":38.8,"y2":42},{"x":41.18,"y":38.8,"y2":42},{"x":44.74,"y":38.8,"y2":42},{"x":45.53,"y":38.8,"y2":42},{"x":46.89,"y":38.8,"y2":42},{"x":48.43,"y":38.8,"y2":42},{"x":48.82,"y":38.8,"y2":42},{"x":49.26,"y":38.8,"y2":42},{"x":49.79,"y":38.8,"y2":42},{"x":51.81,"y":38.8,"y2":42}]},"mark":{"type":"rule","color":"#a08d7e","strokeWidth":1},"encoding":{"y2":{"field":"y2"}}},
{"data":{"values":[{"x":37.89,"y":44,"y2":49.6,"x2":37.89},{"x":37.98,"y":44,"y2":49.6,"x2":37.98},{"x":37.89,"y":49.6,"x2":25.97,"y2":67.6},{"x":37.98,"y":49.6,"x2":52.77,"y2":67.6}]},"mark":{"type":"rule","color":"#444444","strokeWidth":1.2},"encoding":{"x2":{"field":"x2"},"y2":{"field":"y2"}}},
{"data":{"values":[{"x":37.85,"y":11.8,"x2":37.85,"y2":16.5},{"x":40.09,"y":89.6,"x2":40.09,"y2":85}]},"mark":{"type":"rule","color":"#333333","strokeWidth":2},"encoding":{"x2":{"field":"x2"},"y2":{"field":"y2"}}},
{"data":{"values":[{"x":37.85,"y":16.5}]},"mark":{"type":"point","shape":"triangle-down","size":100,"color":"#333333"}},
{"data":{"values":[{"x":40.09,"y":85}]},"mark":{"type":"point","shape":"triangle-up","size":100,"color":"#333333"}},
{"data":{"values":[{"x":37.8,"y":6.4,"t":"breakpoint"},{"x":40.06,"y":94.4,"t":"breakpoint"}]},"mark":{"type":"text","align":"center"},"encoding":{"text":{"field":"t"}}},
{"data":{"values":[{"x":23.37,"y":3.6,"t":"F"}]},"mark":{"type":"text","fontWeight":"bold","fontSize":40},"encoding":{"text":{"field":"t"}}},
{"data":{"values":[{"x":25.4,"y":4.8,"t":"forest"}]},"mark":{"type":"text","color":"#5fa67c"},"encoding":{"text":{"field":"t"}}},
{"data":{"values":[{"x":25.4,"y":11.4,"t":"prairie"}]},"mark":{"type":"text","color":"#7b6350"},"encoding":{"text":{"field":"t"}}},
{"data":{"values":[{"x":24.93,"y":4.8,"t":"*"},{"x":25.5,"y":35.7,"t":"*"},{"x":25.5,"y":72.4,"t":"*"}]},"mark":{"type":"text","color":"#5fa67c","align":"center","dy":7,"fontSize":32},"encoding":{"text":{"field":"t"}}},
{"data":{"values":[{"x":24.93,"y":11.4,"t":"*"},{"x":25.5,"y":40.4,"t":"*"},{"x":25.5,"y":78.4,"t":"*"}]},"mark":{"type":"text","color":"#7b6350","align":"center","dy":7,"fontSize":32},"encoding":{"text":{"field":"t"}}}
]},
{"data":{"values":[
{"x":1,"y":0,"t":"-","h":0},{"x":2,"y":0,"t":"-","h":0},{"x":3,"y":0,"t":"A","h":0},{"x":4,"y":0,"t":"C","h":0},{"x":5,"y":0,"t":"A","h":0},{"x":6,"y":0,"t":"T","h":1},{"x":7,"y":0,"t":"A","h":0},{"x":8,"y":0,"t":"C","h":1},{"x":9,"y":0,"t":"G","h":0},{"x":10,"y":0,"t":"C","h":0},{"x":11,"y":0,"t":"A","h":0},{"x":12,"y":0,"t":"C","h":1},{"x":13,"y":0,"t":"A","h":1},{"x":14,"y":0,"t":"G","h":1},{"x":15,"y":0,"t":"A","h":1},{"x":16,"y":0,"t":"C","h":0},{"x":17,"y":0,"t":"A","h":0},{"x":18,"y":0,"t":"A","h":1},{"x":19,"y":0,"t":"A","h":1},{"x":20,"y":0,"t":"A","h":1},{"x":21,"y":0,"t":"C","h":0},{"x":22,"y":0,"t":"A","h":0},{"x":23,"y":0,"t":"C","h":0},{"x":24,"y":0,"t":"C","h":0},{"x":25,"y":0,"t":"A","h":1},{"x":26,"y":0,"t":"A","h":1},{"x":27,"y":0,"t":"T","h":0},{"x":28,"y":0,"t":"A","h":0},{"x":29,"y":0,"t":"C","h":1},{"x":30,"y":0,"t":"G","h":0},{"x":31,"y":0,"t":"A","h":0},{"x":32,"y":0,"t":"A","h":0},{"x":33,"y":0,"t":"T","h":1},{"x":34,"y":0,"t":"A","h":0},{"x":35,"y":0,"t":"A","h":1},{"x":36,"y":0,"t":"G","h":0},{"x":37,"y":0,"t":"T","h":1},{"x":38,"y":0,"t":"A","h":1},{"x":39,"y":0,"t":"A","h":1},{"x":40,"y":0,"t":"A","h":0},{"x":41,"y":0,"t":"T","h":0},{"x":42,"y":0,"t":"C","h":1},{"x":43,"y":0,"t":"A","h":1},{"x":44,"y":0,"t":"T","h":0},{"x":45,"y":0,"t":"T","h":0},{"x":46,"y":0,"t":"T","h":0},{"x":47,"y":0,"t":"T","h":0},{"x":48,"y":0,"t":"T","h":0},{"x":49,"y":0,"t":"T","h":0},{"x":50,"y":0,"t":"T","h":0},{"x":51,"y":0,"t":"A","h":1},{"x":52,"y":0,"t":"A","h":0},{"x":53,"y":0,"t":"A","h":0},{"x":54,"y":0,"t":"T","h":0},{"x":55,"y":0,"t":"T","h":0},{"x":56,"y":0,"t":"G","h":0},{"x":57,"y":0,"t":"T","h":0},{"x":58,"y":0,"t":"A","h":0},{"x":59,"y":0,"t":"G","h":0},{"x":60,"y":0,"t":"T","h":0},{"x":61,"y":0,"t":"A","h":0},{"x":62,"y":0,"t":"G","h":1},{"x":63,"y":0,"t":"G","h":0},{"x":64,"y":0,"t":"T","h":0},{"x":65,"y":0,"t":"G","h":0},{"x":66,"y":0,"t":"G","h":0},{"x":67,"y":0,"t":"A","h":0},{"x":68,"y":0,"t":"T","h":0},{"x":69,"y":0,"t":"G","h":0},{"x":70,"y":0,"t":"G","h":0},{"x":71,"y":0,"t":"T","h":0},{"x":72,"y":0,"t":"T","h":0},{"x":73,"y":0,"t":"A","h":0},{"x":74,"y":0,"t":"A","h":0},{"x":75,"y":0,"t":"G","h":0},{"x":76,"y":0,"t":"G","h":0},{"x":77,"y":0,"t":"G","h":0},{"x":78,"y":0,"t":"C","h":0},{"x":79,"y":0,"t":"A","h":0},{"x":80,"y":0,"t":"T","h":0},{"x":81,"y":0,"t":"G","h":0},{"x":82,"y":0,"t":"T","h":0},{"x":83,"y":0,"t":"T","h":0},{"x":84,"y":0,"t":"T","h":0},
{"x":1,"y":1,"t":"A","h":1},{"x":2,"y":1,"t":"T","h":1},{"x":3,"y":1,"t":"A","h":0},{"x":4,"y":1,"t":"C","h":0},{"x":5,"y":1,"t":"A","h":0},{"x":6,"y":1,"t":"G","h":1},{"x":7,"y":1,"t":"A","h":0},{"x":8,"y":1,"t":"G","h":1},{"x":9,"y":1,"t":"G","h":0},{"x":10,"y":1,"t":"C","h":0},{"x":11,"y":1,"t":"A","h":0},{"x":12,"y":1,"t":"G","h":1},{"x":13,"y":1,"t":"T","h":1},{"x":14,"y":1,"t":"C","h":1},{"x":15,"y":1,"t":"C","h":1},{"x":16,"y":1,"t":"C","h":0},{"x":17,"y":1,"t":"A","h":0},{"x":18,"y":1,"t":"G","h":1},{"x":19,"y":1,"t":"G","h":1},{"x":20,"y":1,"t":"C","h":1},{"x":21,"y":1,"t":"C","h":0},{"x":22,"y":1,"t":"A","h":0},{"x":23,"y":1,"t":"C","h":0},{"x":24,"y":1,"t":"C","h":0},{"x":25,"y":1,"t":"G","h":1},{"x":26,"y":1,"t":"C","h":1},{"x":27,"y":1,"t":"T","h":0},{"x":28,"y":1,"t":"A","h":0},{"x":29,"y":1,"t":"-","h":0},{"x":30,"y":1,"t":"G","h":0},{"x":31,"y":1,"t":"A","h":0},{"x":32,"y":1,"t":"A","h":0},{"x":33,"y":1,"t":"C","h":1},{"x":34,"y":1,"t":"A","h":0},{"x":35,"y":1,"t":"G","h":1},{"x":36,"y":1,"t":"G","h":0},{"x":37,"y":1,"t":"G","h":1},{"x":38,"y":1,"t":"C","h":1},{"x":39,"y":1,"t":"C","h":1},{"x":40,"y":1,"t":"A","h":0},{"x":41,"y":1,"t":"T","h":0},{"x":42,"y":1,"t":"T","h":1},{"x":43,"y":1,"t":"-","h":0},{"x":44,"y":1,"t":"T","h":0},{"x":45,"y":1,"t":"T","h":0},{"x":46,"y":1,"t":"T","h":0},{"x":47,"y":1,"t":"T","h":0},{"x":48,"y":1,"t":"T","h":0},{"x":49,"y":1,"t":"T","h":0},{"x":50,"y":1,"t":"T","h":0},{"x":51,"y":1,"t":"T","h":1},{"x":52,"y":1,"t":"A","h":0},{"x":53,"y":1,"t":"A","h":0},{"x":54,"y":1,"t":"T","h":0},{"x":55,"y":1,"t":"T","h":0},{"x":56,"y":1,"t":"G","h":0},{"x":57,"y":1,"t":"T","h":0},{"x":58,"y":1,"t":"A","h":0},{"x":59,"y":1,"t":"G","h":0},{"x":60,"y":1,"t":"T","h":0},{"x":61,"y":1,"t":"A","h":0},{"x":62,"y":1,"t":"A","h":1},{"x":63,"y":1,"t":"G","h":0},{"x":64,"y":1,"t":"T","h":0},{"x":65,"y":1,"t":"G","h":0},{"x":66,"y":1,"t":"G","h":0},{"x":67,"y":1,"t":"A","h":0},{"x":68,"y":1,"t":"T","h":0},{"x":69,"y":1,"t":"G","h":0},{"x":70,"y":1,"t":"G","h":0},{"x":71,"y":1,"t":"T","h":0},{"x":72,"y":1,"t":"T","h":0},{"x":73,"y":1,"t":"A","h":0},{"x":74,"y":1,"t":"A","h":0},{"x":75,"y":1,"t":"G","h":0},{"x":76,"y":1,"t":"G","h":0},{"x":77,"y":1,"t":"G","h":0},{"x":78,"y":1,"t":"C","h":0},{"x":79,"y":1,"t":"A","h":0},{"x":80,"y":1,"t":"T","h":0},{"x":81,"y":1,"t":"G","h":0},{"x":82,"y":1,"t":"T","h":0},{"x":83,"y":1,"t":"T","h":0},{"x":84,"y":1,"t":"T","h":0}
]},
"encoding":{"x":{"field":"x","type":"quantitative","scale":{"domain":[0.5,84.5],"range":[845,1860],"nice":false,"zero":false},"axis":null},"y":{"field":"y","type":"quantitative","scale":{"domain":[0,1],"range":[962,992],"nice":false,"zero":false},"axis":null}},
"layer":[
{"transform":[{"filter":"datum.h==1"}],"mark":{"type":"rect","color":"#bdbdbf","width":12.1,"height":21,"yOffset":-2}},
{"mark":{"type":"text","fontSize":17,"align":"center"},"encoding":{"text":{"field":"t"},"color":{"condition":{"test":"datum.h==1","value":"#222222"},"value":"#8d8d8d"}}}
]},
{"encoding":{"x":{"field":"x","type":"quantitative","scale":{"domain":[0,80],"range":[835.5,1838],"nice":false,"zero":false},"axis":{"orient":"bottom","offset":-134,"values":[0,20,40,60,80],"domainWidth":4,"domainColor":"#111111","tickSize":23,"tickWidth":2,"tickColor":"#444444","labelPadding":8,"title":"position (Mb)","titleX":1330,"titleY":83}},"y":{"field":"y","type":"quantitative","scale":{"domain":[0,50],"range":[1233,1633],"nice":false,"zero":false},"axis":null}},
"layer":[
{"data":{"values":[{"x":39,"x2":79,"y":4.875,"y2":7.125},{"x":41,"x2":79,"y":13.6,"y2":15.9}]},"mark":{"type":"rect","color":"#c4c4ca"},"encoding":{"x2":{"field":"x2"},"y2":{"field":"y2"}}},
{"data":{"values":[{"x":0,"x2":39.5,"y":4.875,"y2":7.125}]},"mark":{"type":"rect","color":"#d4b694"},"encoding":{"x2":{"field":"x2"},"y2":{"field":"y2"}}},
{"data":{"values":[{"x":3.5,"x2":41,"y":13.6,"y2":15.9}]},"mark":{"type":"rect","color":"#4e9160"},"encoding":{"x2":{"field":"x2"},"y2":{"field":"y2"}}},
{"data":{"values":[{"x":38.83,"y":6}]},"mark":{"type":"point","shape":"M-1,-1L1,0L-1,1L-0.56,0Z","size":2800,"color":"#d4b694"}},
{"data":{"values":[{"x":2.15,"y":14.7}]},"mark":{"type":"point","shape":"M1,-1L-1,0L1,1L0.56,0Z","size":2800,"color":"#4e9160"}},
{"data":{"values":[{"x":5.07,"y":7.2,"x2":35.4,"y2":13.5},{"x":5.07,"y":13.5,"x2":35.4,"y2":7.2}]},"mark":{"type":"rule","color":"#8a8a8a","strokeWidth":2,"strokeDash":[14,10]},"encoding":{"x2":{"field":"x2"},"y2":{"field":"y2"}}},
{"data":{"values":[{"x":78.9,"y":6},{"x":78.9,"y":14.7},{"x":65,"y":0.6}]},"mark":{"type":"point","shape":"circle","size":280,"color":"#3a3a3a"}},
{"data":{"values":[{"x":0,"x2":41,"y":29.1,"y2":31.4}]},"mark":{"type":"rect","color":"#5d5a9f"},"encoding":{"x2":{"field":"x2"},"y2":{"field":"y2"}}},
{"data":{"values":[{"x":41,"x2":79,"y":29.1,"y2":31.4}]},"mark":{"type":"rect","color":"#b9b8be"},"encoding":{"x2":{"field":"x2"},"y2":{"field":"y2"}}},
{"data":{"values":[{"x":18.9,"y":0.875,"t":"reference (prairie) allele"}]},"mark":{"type":"text","align":"center","color":"#d6b893"},"encoding":{"text":{"field":"t"}}},
{"data":{"values":[{"x":17.7,"y":19.25,"t":"inverted (forest) allele"}]},"mark":{"type":"text","align":"center","color":"#4e9160"},"encoding":{"text":{"field":"t"}}},
{"data":{"values":[{"x":7.9,"y":26.4,"t":"affected region"}]},"mark":{"type":"text","align":"center","color":"#5c5aa0"},"encoding":{"text":{"field":"t"}}},
{"data":{"values":[{"x":50.4,"y":26.4,"t":"unaffected region"}]},"mark":{"type":"text","align":"center","color":"#8f8f8f"},"encoding":{"text":{"field":"t"}}},
{"data":{"values":[{"x":66.5,"y":0.35,"t":"centromere"}]},"mark":{"type":"text"},"encoding":{"text":{"field":"t"}}},
{"data":{"values":[{"x":39.4,"y":48.4,"t":"chromosome 15"}]},"mark":{"type":"text","align":"center"},"encoding":{"text":{"field":"t"}}},
{"data":{"values":[{"x":-8.18,"y":-1.9,"t":"G"}]},"mark":{"type":"text","fontWeight":"bold","fontSize":40},"encoding":{"text":{"field":"t"}}}
]}
]}
